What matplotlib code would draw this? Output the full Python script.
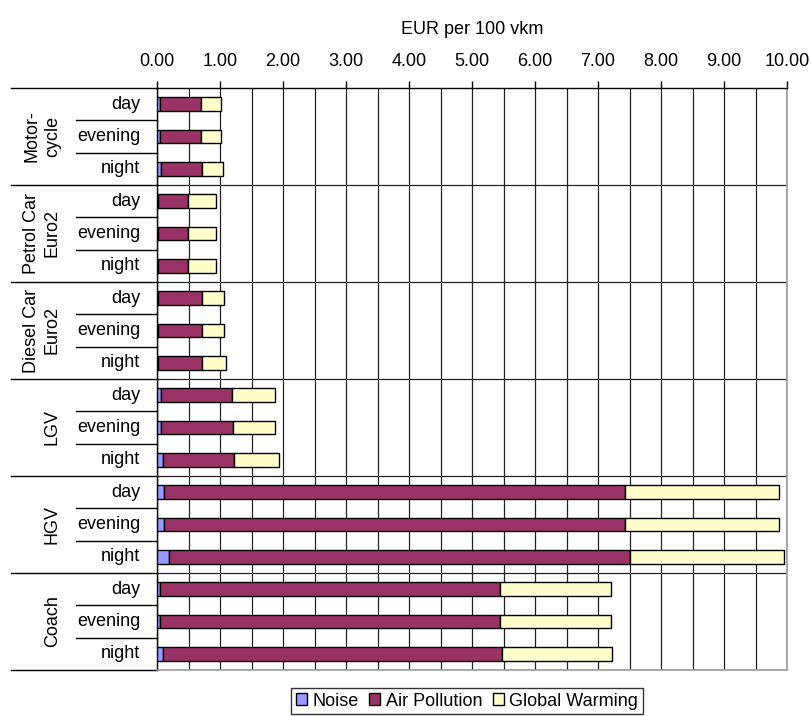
import matplotlib
matplotlib.use('Agg')
import matplotlib.pyplot as plt
from matplotlib.lines import Line2D
from matplotlib.ticker import MultipleLocator, FormatStrFormatter
import numpy as np

plt.rcParams['font.family'] = ['Liberation Sans', 'DejaVu Sans']

# vehicle groups and time-of-day rows (top to bottom)
groups = ['Motor-\ncycle', 'Petrol Car\nEuro2', 'Diesel Car\nEuro2', 'LGV', 'HGV', 'Coach']
periods = ['day', 'evening', 'night']

# EUR per 100 vkm, one value per row (6 groups x 3 periods)
noise = [0.05, 0.05, 0.07,
         0.01, 0.01, 0.01,
         0.01, 0.01, 0.01,
         0.07, 0.06, 0.09,
         0.11, 0.11, 0.19,
         0.05, 0.05, 0.09]
air_pollution = [0.65, 0.65, 0.65,
                 0.48, 0.48, 0.48,
                 0.71, 0.71, 0.71,
                 1.12, 1.15, 1.14,
                 7.32, 7.32, 7.31,
                 5.39, 5.39, 5.39]
global_warming = [0.32, 0.32, 0.32,
                  0.45, 0.45, 0.45,
                  0.35, 0.35, 0.37,
                  0.69, 0.67, 0.70,
                  2.45, 2.45, 2.45,
                  1.76, 1.76, 1.74]

noise = np.array(noise)
air_pollution = np.array(air_pollution)
global_warming = np.array(global_warming)
n_rows = len(noise)
y = np.arange(n_rows)

fig = plt.figure(figsize=(8.11, 7.16), dpi=100)
ax = fig.add_axes([157 / 811, 1 - 670 / 716, 630 / 811, 582 / 716])

h = 0.42
ax.barh(y, noise, height=h, color='#9999FF', edgecolor='black', linewidth=1, label='Noise', zorder=3)
ax.barh(y, air_pollution, left=noise, height=h, color='#993366', edgecolor='black', linewidth=1,
        label='Air Pollution', zorder=3)
ax.barh(y, global_warming, left=noise + air_pollution, height=h, color='#FFFFCC', edgecolor='black',
        linewidth=1, label='Global Warming', zorder=3)

ax.set_xlim(0, 10)
ax.set_ylim(n_rows - 0.5, -0.5)

# value axis on top
ax.xaxis.tick_top()
ax.xaxis.set_label_position('top')
ax.xaxis.set_major_locator(MultipleLocator(1))
ax.xaxis.set_minor_locator(MultipleLocator(0.5))
ax.xaxis.set_major_formatter(FormatStrFormatter('%.2f'))
ax.tick_params(axis='x', which='major', direction='out', length=5, width=1, color='black',
               labelsize=13, pad=8)
ax.tick_params(axis='x', which='minor', length=0)
ax.set_xlabel('EUR per 100 vkm', fontsize=13, labelpad=14)
ax.grid(axis='x', which='both', color='#222222', linewidth=0.9, zorder=0)

# horizontal lines at group boundaries inside the plot
for b in np.arange(3, n_rows, 3) - 0.5:
    ax.axhline(b, color='#222222', linewidth=0.9, zorder=1)

ax.set_yticks([])
for s in ['right', 'bottom']:
    ax.spines[s].set_color('#999999')
    ax.spines[s].set_linewidth(1.2)
for s in ['left', 'top']:
    ax.spines[s].set_color('black')
    ax.spines[s].set_linewidth(1)

# two-level category axis on the left
tr = ax.get_yaxis_transform()
x_grp = -146 / 630
x_row = -81 / 630
x_lab = -17 / 630
x_grp_txt = -96 / 630
for gi, g in enumerate(groups):
    top = gi * 3 - 0.5
    ax.add_line(Line2D([x_grp, 0], [top, top], transform=tr, color='black', linewidth=1, clip_on=False))
    for pi, p in enumerate(periods):
        r = gi * 3 + pi
        ax.text(x_lab, r, p, transform=tr, ha='right', va='center', fontsize=13)
        if pi > 0:
            ax.add_line(Line2D([x_row, 0], [r - 0.5, r - 0.5], transform=tr, color='black',
                               linewidth=1, clip_on=False))
    ax.text(x_grp_txt, gi * 3 + 1, g, transform=tr, ha='right', va='center', rotation=90,
            fontsize=13, linespacing=1.3, multialignment='center')
ax.add_line(Line2D([x_grp, 0], [n_rows - 0.5, n_rows - 0.5], transform=tr, color='black',
                   linewidth=1, clip_on=False))

leg = fig.legend(loc='center', bbox_to_anchor=(467 / 811, 1 - 701 / 716), ncol=3, fontsize=13,
                 frameon=True, fancybox=False, edgecolor='black', handlelength=0.6, handleheight=0.6,
                 handletextpad=0.3, columnspacing=0.6, borderpad=0.25, borderaxespad=0)
leg.get_frame().set_linewidth(1)

fig.savefig('out.png', dpi=100)
